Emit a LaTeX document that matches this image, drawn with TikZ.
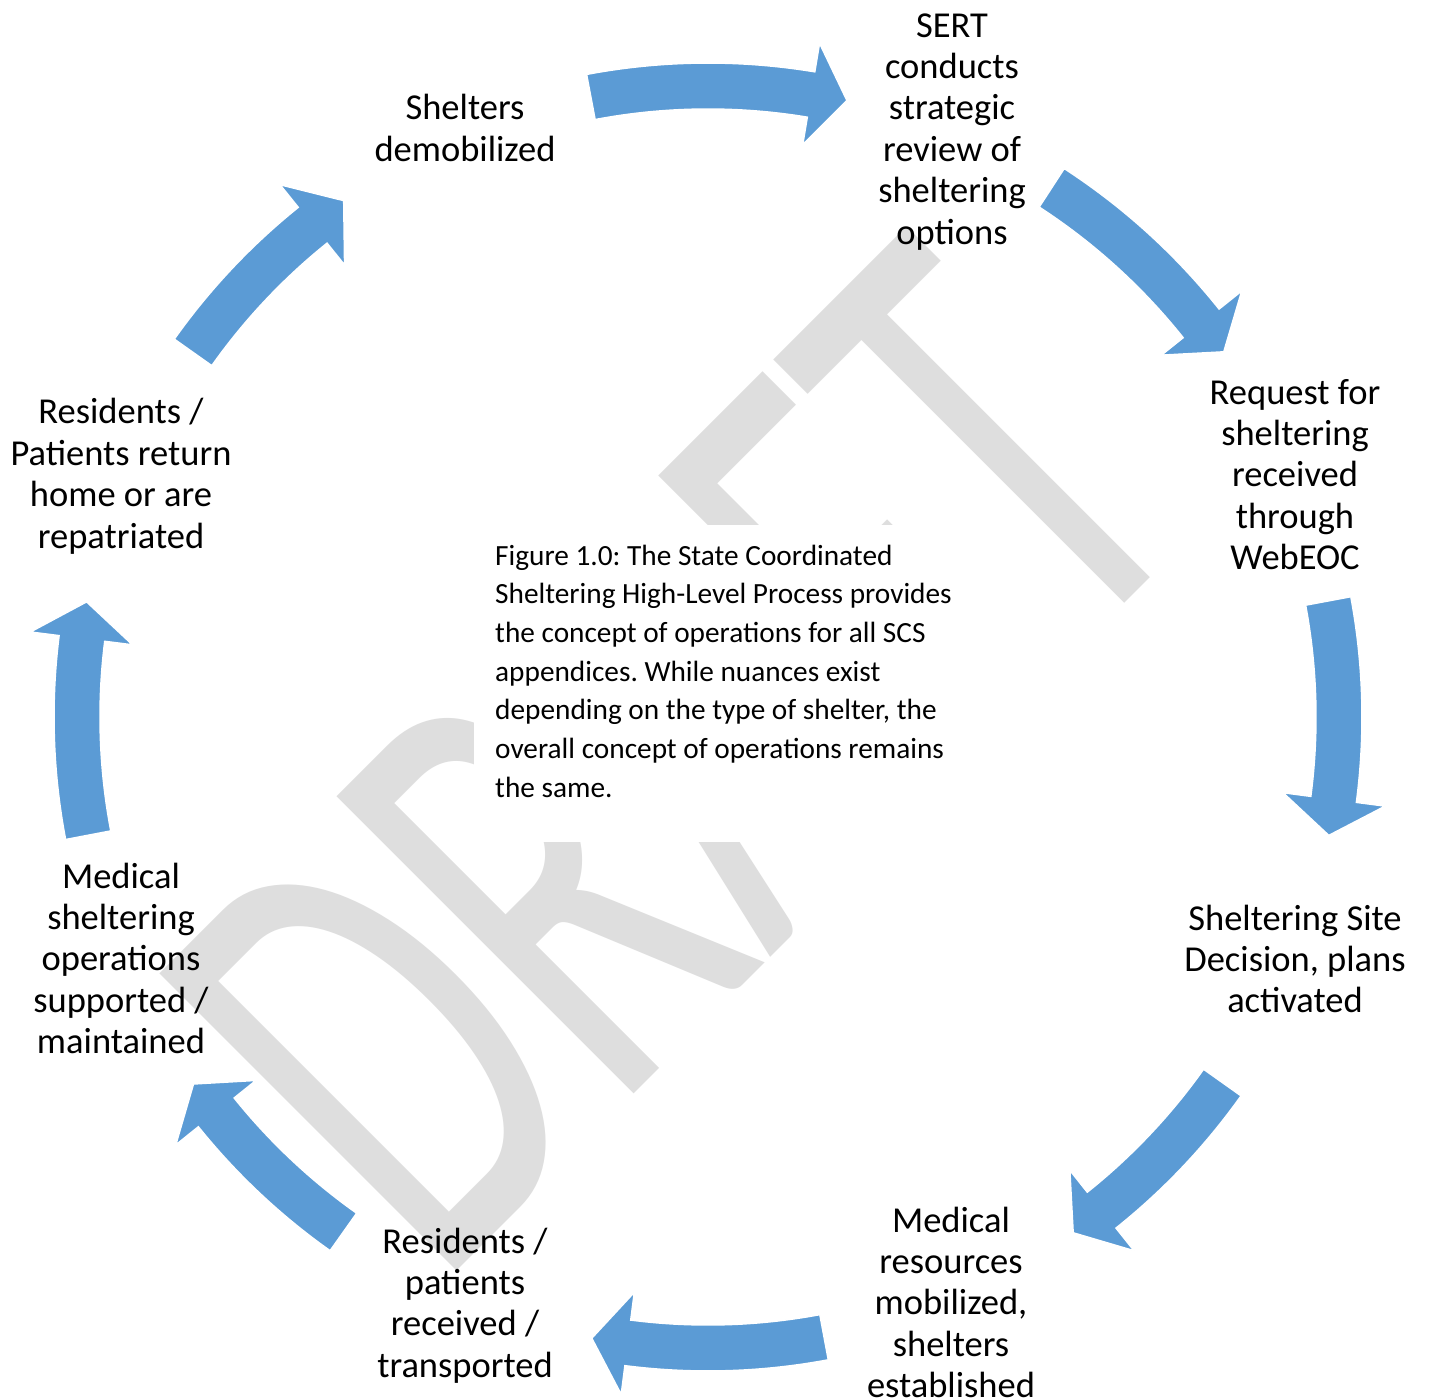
\documentclass[tikz,border=0pt]{standalone}
\usepackage{fontspec}
\setmainfont{Carlito}
\usepackage{graphicx}
\frenchspacing
\definecolor{cycblue}{HTML}{5B9BD5}
\definecolor{wmgray}{HTML}{DEDEDE}
\newcommand\cycarrow[4]{%
  \pgfmathsetmacro\cycaT{#1+#2}%
  \pgfmathsetmacro\cycaB{#1+#3}%
  \pgfmathsetmacro\cycaP{#1+#4}%
  \filldraw[cyc] ([shift={(C)}]\cycaT:654) arc[start angle=\cycaT, end angle=\cycaB, radius=654]
    -- ([shift={(C)}]\cycaB:683) -- ([shift={(C)}]\cycaP:632) -- ([shift={(C)}]\cycaB:580)
    -- ([shift={(C)}]\cycaB:608) arc[start angle=\cycaB, end angle=\cycaT, radius=608] -- cycle;
}
\begin{document}
\begin{tikzpicture}[x=1pt,y=1pt,
  lbl/.style={font=\fontsize{36.5}{41.4}\selectfont, align=center, inner sep=0pt, anchor=base},
  capt/.style={font=\fontsize{29.3}{38.7}\selectfont, align=left, inner sep=0pt, anchor=base west},
  cyc/.style={fill=cycblue, draw=white, line width=1.5pt},
  wm/.style={text=wmgray, inner sep=0pt, rotate=45, font=\fontsize{655}{655}\selectfont}]
\useasboundingbox (0,0) rectangle (1429,-1399);
\fill[white] (0,0) rectangle (1429,-1399);
\coordinate (C) at (708,-717);
% watermark
\node[wm] (draft) at (674,-757) {\scalebox{0.62}[1]{DRAFT}};
% caption box
\fill[white] (474,-525) rectangle (1015,-842);
\node[capt] (caption) at (495,-797.2) {Figure 1.0: The State Coordinated\\Sheltering High-Level Process provides\\the concept of operations for all SCS\\appendices. While nuances exist\\depending on the type of shelter, the\\overall concept of operations remains\\the same.};
% arrows
\cycarrow{90}{10.7}{-9.4}{-12.7}
\cycarrow{45}{12.0}{-6.4}{-9.7}
\cycarrow{0}{10.6}{-7.5}{-10.8}
\cycarrow{-45}{9.6}{-6.4}{-9.7}
\cycarrow{-90}{10.6}{-7.3}{-10.6}
\cycarrow{-135}{9.7}{-6.2}{-9.5}
\cycarrow{180}{10.8}{-7.15}{-10.5}
\cycarrow{135}{9.7}{-6.2}{-9.8}
% labels (anchored at the baseline of the last line)
\node[lbl] (n1) at (952,-244) {SERT\\conducts\\strategic\\review of\\sheltering\\options};
\node[lbl] (n2) at (1295,-569.6) {Request for\\sheltering\\received\\through\\WebEOC};
\node[lbl] (n3) at (1295,-1012.8) {Sheltering Site\\Decision, plans\\activated};
\node[lbl] (n4) at (951,-1397.6) {Medical\\resources\\mobilized,\\shelters\\established};
\node[lbl] (n5) at (465,-1377.2) {Residents /\\patients\\received /\\transported};
\node[lbl] (n6) at (121,-1053.6) {Medical\\sheltering\\operations\\supported /\\maintained};
\node[lbl] (n7) at (121,-548) {Residents /\\Patients return\\home or are\\repatriated};
\node[lbl] (n8) at (465,-161.4) {Shelters\\demobilized};
\end{tikzpicture}
\end{document}
